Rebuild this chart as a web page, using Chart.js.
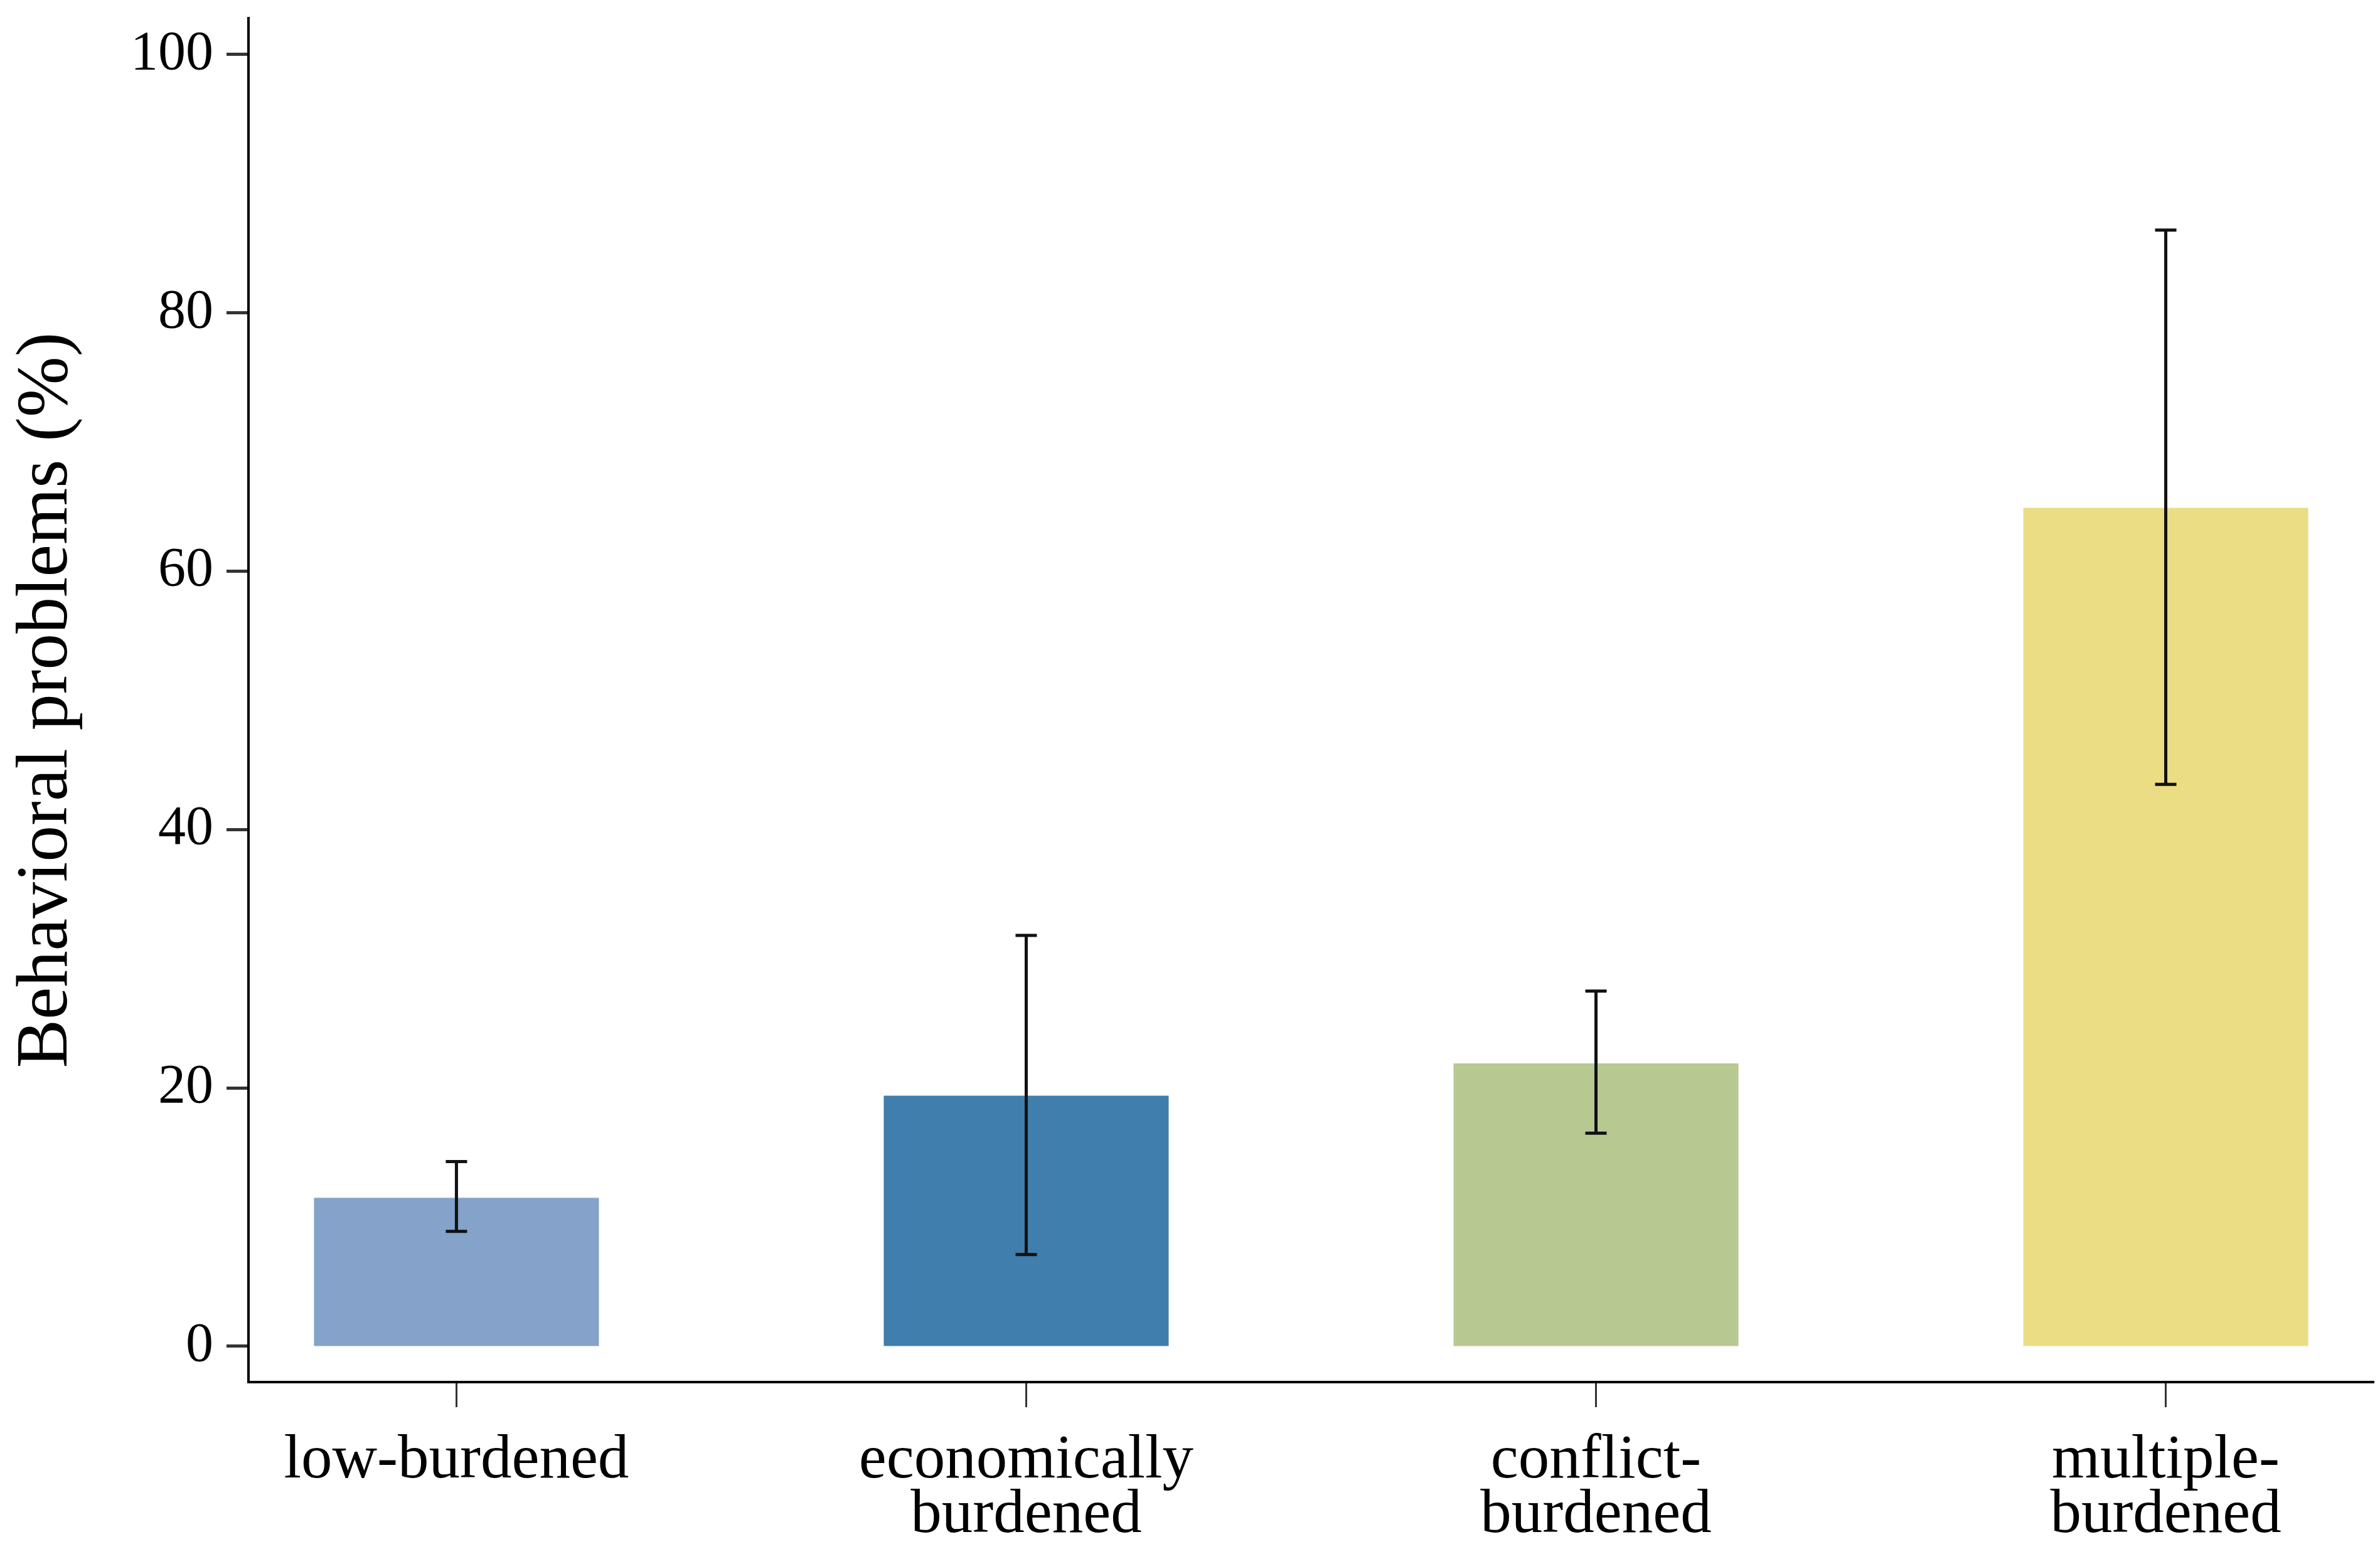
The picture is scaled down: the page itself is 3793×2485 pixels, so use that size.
<!DOCTYPE html>
<html>
<head>
<meta charset="utf-8">
<title>Behavioral problems</title>
<script src="https://cdn.jsdelivr.net/npm/chart.js@4.4.1/dist/chart.umd.min.js"></script>
<style>
    html, body { margin: 0; padding: 0; background: #ffffff; }
    canvas { display: block; }
</style>
</head>
<body>
<canvas id="chart1" width="3793" height="2485" style="width:3793px;height:2485px"></canvas>
<script>
// values
const categories = [['low-burdened'], ['economically', 'burdened'], ['conflict-', 'burdened'], ['multiple-', 'burdened']]
const means = [11.5, 19.4, 21.9, 64.9]
const lowerCI = [8.9, 7.1, 16.5, 43.5]
const upperCI = [14.3, 31.8, 27.5, 86.4]
const barColors = ['#84a2ca', '#3f7ead', '#b8c891', '#ebdd84']
const yTicks = [0, 20, 40, 60, 80, 100]

const serif = 'Liberation Serif'

// points for the bars, x is the category index
const points = []
means.forEach((m, i) => {
    points.push({ x: i, y: m })
})

// draws the confidence intervals on top of the bars
const errorBars = {
    id: 'errorBars',
    afterDatasetsDraw(chart) {
        const ctx = chart.ctx
        const yScale = chart.scales.y
        const meta = chart.getDatasetMeta(0)
        const cap = 17
        ctx.save()
        ctx.strokeStyle = '#111111'
        ctx.lineWidth = 5
        meta.data.forEach((bar, i) => {
            const yLo = yScale.getPixelForValue(lowerCI[i])
            const yHi = yScale.getPixelForValue(upperCI[i])
            ctx.beginPath()
            ctx.moveTo(bar.x, yLo)
            ctx.lineTo(bar.x, yHi)
            ctx.moveTo(bar.x - cap, yHi)
            ctx.lineTo(bar.x + cap, yHi)
            ctx.moveTo(bar.x - cap, yLo)
            ctx.lineTo(bar.x + cap, yLo)
            ctx.stroke()
        })
        ctx.restore()
    }
}

const ctx1 = document.querySelector('#chart1').getContext('2d')
const chart1 = new Chart(ctx1, {
    type: 'bar',
    data: {
        datasets: [{
            label: 'Behavioral problems (%)',
            data: points,
            backgroundColor: barColors,
            borderWidth: 0,
            categoryPercentage: 1.0,
            barPercentage: 0.5,
        }],
    },
    options: {
        responsive: false,
        animation: false,
        devicePixelRatio: 1,
        layout: {
            padding: { top: 29, right: 10, left: 0, bottom: 0 }
        },
        plugins: {
            legend: { display: false },
            tooltip: { enabled: false }
        },
        scales: {
            x: {
                type: 'linear',
                offset: false,
                min: -0.365,
                max: 3.365,
                afterFit: scale => { scale.height = 282 },
                grid: {
                    offset: false,
                    drawOnChartArea: false,
                    drawTicks: true,
                    tickLength: 40,
                    tickWidth: 3,
                    tickColor: '#333333',
                },
                border: { display: true, color: '#000000', width: 4 },
                ticks: {
                    stepSize: 1,
                    includeBounds: false,
                    autoSkip: false,
                    maxRotation: 0,
                    padding: 42,
                    color: '#000000',
                    font: { family: serif, size: 99, lineHeight: 0.88 },
                    callback: value => categories[value] || ''
                }
            },
            y: {
                min: -2.77,
                max: 102.8,
                afterFit: scale => {
                    scale.width = 396
                    scale.paddingTop = 0
                    scale.paddingBottom = 0
                },
                afterBuildTicks: scale => {
                    scale.ticks = yTicks.map(v => ({ value: v }))
                },
                grid: {
                    drawOnChartArea: false,
                    drawTicks: true,
                    tickLength: 35,
                    tickWidth: 5,
                    tickColor: '#333333',
                },
                border: { display: true, color: '#000000', width: 4 },
                ticks: {
                    padding: 21,
                    color: '#000000',
                    font: { family: serif, size: 88 }
                },
                title: {
                    display: true,
                    text: 'Behavioral problems (%)',
                    color: '#000000',
                    padding: { top: 6, bottom: 0 },
                    font: { family: serif, size: 116, lineHeight: 1.2 }
                }
            }
        }
    },
    plugins: [errorBars]
})
</script>
</body>
</html>
